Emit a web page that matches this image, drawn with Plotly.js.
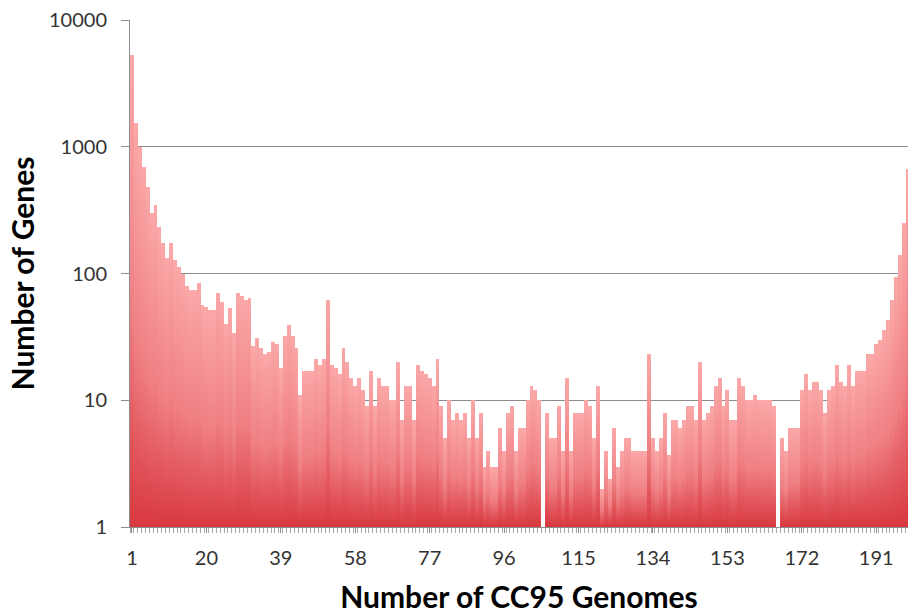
<!DOCTYPE html>
<html><head><meta charset="utf-8">
<script src="https://cdn.plot.ly/plotly-3.0.1.min.js"></script>
<style>html,body{margin:0;padding:0;background:#fff;overflow:hidden}#chart{width:908px;height:614px}</style>
</head><body><div id="chart"></div>
<script>
// Number of genes found in exactly n of the CC95 genomes
const geneCounts = [
  5300,1550,1000,690,480,300,345,233,175,133,
  175,127,113,100,80,74,74,84,56,54,
  52,52,70,60,40,53,34,70,66,62,
  64,27,31,26,23,24,29,28,18,32,
  39,32,26,11,17,17,17,21,19,21,
  62,19,18,16,26,20,15,13,15,12,
  9,17,9,15,13,13,10,10,20,7,
  13,13,7,19,17,16,15,13,21,9,
  5,10,7,8,7,8,5,10,5,8,
  3,4,3,3,6,4,8,9,4,6,
  6,10,13,12,10,0,8,5,5,9,
  4,15,4,8,8,8,10,9,5,13,
  2,4,2.4,6,3,4,5,5,4,4,
  4,4,23,5,4,5,8,3.7,7,7,
  6,7,9,9,7,20,7,8,9,13,
  15,9,12,7,7,15,13,10,10,11,
  10,10,10,10,9,0,5,4,6,6,
  6,12,16,12,14,14,12,8,12,13,
  19,14,13,19,13,17,17,17,23,23,
  28,30,36,43,62,94,140,250,670
];
const genomeCounts = geneCounts.map((_, i) => i + 1);
const xTickVals = [1,20,39,58,77,96,115,134,153,172,191];
const xTickText = ['1','20','39','58','77','96','115','134','153','172','191'];
const yTickVals = [1,10,100,1000,10000];
const yTickText = ['1','10','100','1000','10000'];

const axisGrey = '#8c8c8c';
const data = [{
  type: 'bar',
  x: genomeCounts,
  y: geneCounts,
  marker: {color: '#ea6f72', line: {width: 0}},
  hoverinfo: 'x+y'
}];
const layout = {
  width: 908, height: 614,
  margin: {l: 130, r: 0, t: 20, b: 87},
  paper_bgcolor: '#ffffff', plot_bgcolor: '#ffffff',
  bargap: 0,
  showlegend: false,
  xaxis: {
    range: [0.5, 199.1],
    tickvals: xTickVals, ticktext: xTickText,
    ticks: 'outside', ticklen: 5, tickcolor: axisGrey, tickwidth: 1,
    minor: {dtick: 1, tick0: 0.5, ticks: 'outside', ticklen: 5, tickcolor: '#a6a6a6', tickwidth: 1, showgrid: false},
    showline: true, linecolor: axisGrey, linewidth: 1,
    showgrid: false, zeroline: false,
    tickfont: {family: 'Lato, sans-serif', size: 20, color: '#333333'},
    ticklabelstandoff: 8,
    title: {text: 'Number of CC95 Genomes', font: {family: 'Lato, sans-serif', size: 30, color: '#000', weight: 700}, standoff: 18}
  },
  yaxis: {
    type: 'log', range: [0, 4],
    tickvals: yTickVals, ticktext: yTickText,
    ticks: 'outside', ticklen: 8, tickcolor: axisGrey, tickwidth: 1,
    showline: true, linecolor: axisGrey, linewidth: 1,
    showgrid: true, gridcolor: axisGrey, gridwidth: 1.3,
    zeroline: false,
    tickfont: {family: 'Lato, sans-serif', size: 20, color: '#333333'},
    ticklabelstandoff: 10,
    title: {text: 'Number of Genes', font: {family: 'Lato, sans-serif', size: 30, color: '#000', weight: 700}, standoff: 5}
  }
};
Plotly.newPlot('chart', data, layout, {staticPlot: true, displayModeBar: false}).then(gd => {
  // per-bar vertical gradient: light pink at each bar's top, deep red at the axis
  const ns = 'http://www.w3.org/2000/svg';
  const svg = gd.querySelector('svg.main-svg');
  let defs = svg.querySelector('defs');
  if (!defs) { defs = document.createElementNS(ns, 'defs'); svg.insertBefore(defs, svg.firstChild); }
  const bottom = gd._fullLayout.yaxis._length;
  const stops = [['0', '#fba8a8'], ['0.55', '#ef7f83'], ['1', '#d8383f']];
  gd.querySelectorAll('.bars .point path').forEach((p, i) => {
    const bb = p.getBBox();
    const lg = document.createElementNS(ns, 'linearGradient');
    const id = 'barGrad' + i;
    lg.setAttribute('id', id);
    lg.setAttribute('gradientUnits', 'userSpaceOnUse');
    lg.setAttribute('x1', '0'); lg.setAttribute('x2', '0');
    lg.setAttribute('y1', String(bb.y)); lg.setAttribute('y2', String(bottom));
    stops.forEach(([o, c]) => {
      const s = document.createElementNS(ns, 'stop');
      s.setAttribute('offset', o); s.setAttribute('stop-color', c);
      lg.appendChild(s);
    });
    defs.appendChild(lg);
    p.style.fill = 'url(#' + id + ')';
  });
});
</script>
</body></html>
